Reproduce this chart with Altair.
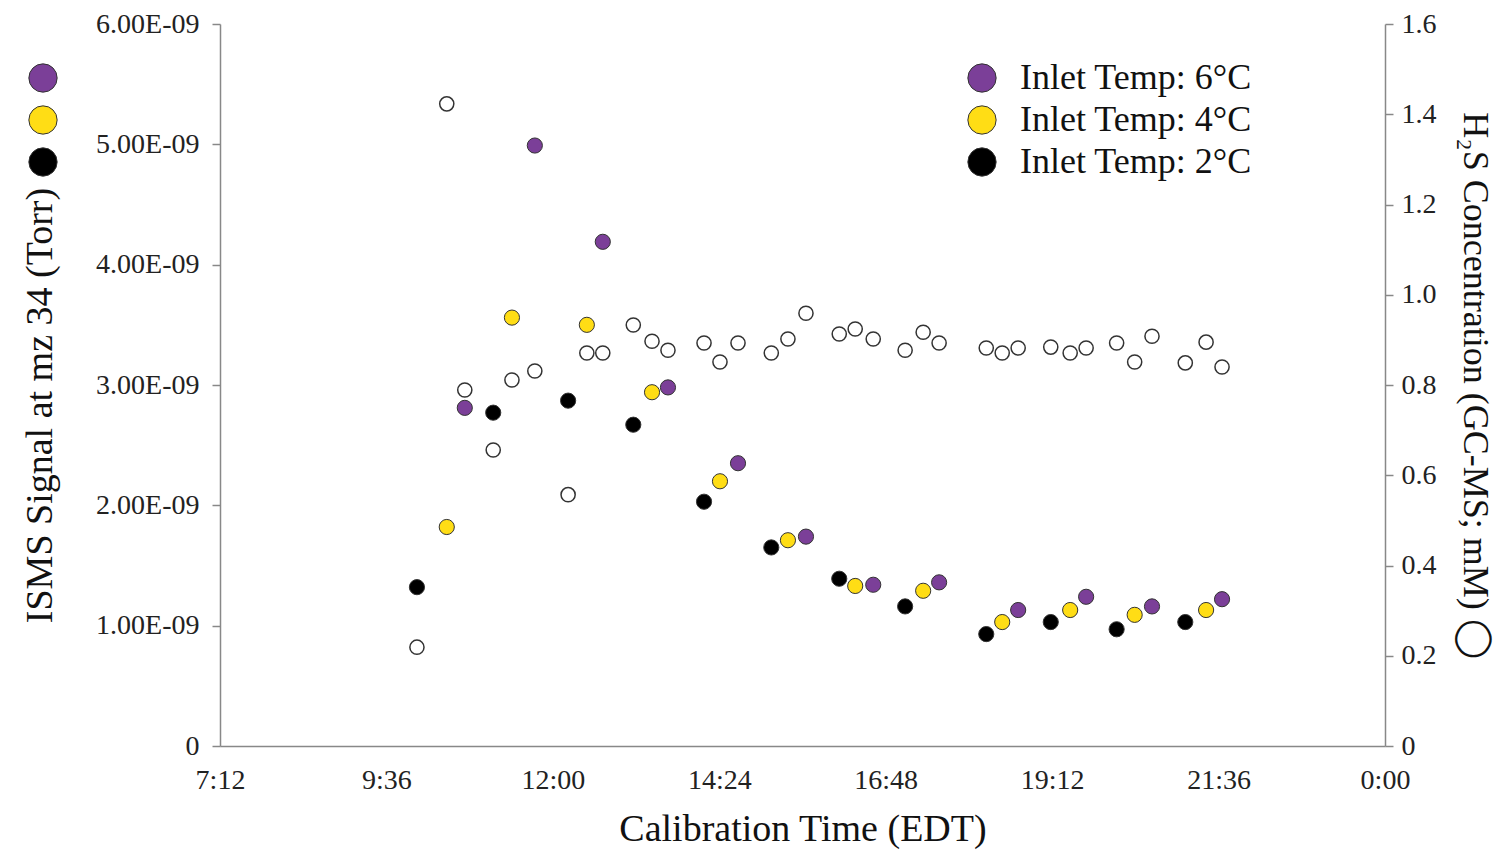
import altair as alt
import pandas as pd

FONT = "Liberation Serif"

series_names = ["Inlet Temp: 6°C", "Inlet Temp: 4°C", "Inlet Temp: 2°C"]
series_colors = ["#7B3F98", "#FFDD15", "#000000"]

# calibration times (decimal hours, EDT)
time_2c = [10.04, 11.14, 12.22, 13.16, 14.18, 15.15, 16.13, 17.08, 18.25, 19.18, 20.13, 21.12]
time_4c = [10.47, 11.41, 12.49, 13.43, 14.41, 15.39, 16.36, 17.34, 18.48, 19.46, 20.39, 21.42]
time_6c = [10.73, 11.74, 12.72, 13.66, 14.67, 15.65, 16.62, 17.57, 18.71, 19.69, 20.64, 21.65]

# ISMS signal at m/z 34 (Torr)
signal_2c = [1.32e-9, 2.77e-9, 2.87e-9, 2.67e-9, 2.03e-9, 1.65e-9, 1.39e-9, 1.16e-9, 0.93e-9, 1.03e-9, 0.97e-9, 1.03e-9]
signal_4c = [1.82e-9, 3.56e-9, 3.50e-9, 2.94e-9, 2.20e-9, 1.71e-9, 1.33e-9, 1.29e-9, 1.03e-9, 1.13e-9, 1.09e-9, 1.13e-9]
signal_6c = [2.81e-9, 4.99e-9, 4.19e-9, 2.98e-9, 2.35e-9, 1.74e-9, 1.34e-9, 1.36e-9, 1.13e-9, 1.24e-9, 1.16e-9, 1.22e-9]

# H2S concentration by GC-MS (mM)
h2s_2c = [0.219, 0.656, 0.557, 0.933, 0.893, 0.871, 0.913, 0.877, 0.882, 0.884, 0.893, 0.849]
h2s_4c = [1.423, 0.811, 0.871, 0.897, 0.851, 0.902, 0.924, 0.917, 0.871, 0.871, 0.851, 0.895]
h2s_6c = [0.789, 0.831, 0.871, 0.877, 0.893, 0.959, 0.902, 0.893, 0.882, 0.882, 0.908, 0.840]

x_ticks = [7.2, 9.6, 12.0, 14.4, 16.8, 19.2, 21.6, 24.0]
left_ticks = [0, 1e-9, 2e-9, 3e-9, 4e-9, 5e-9, 6e-9]
right_ticks = [0, 0.2, 0.4, 0.6, 0.8, 1.0, 1.2, 1.4, 1.6]

rows = []
for name, ts, sg, hs in [
    (series_names[2], time_2c, signal_2c, h2s_2c),
    (series_names[1], time_4c, signal_4c, h2s_4c),
    (series_names[0], time_6c, signal_6c, h2s_6c),
]:
    for t, s, h in zip(ts, sg, hs):
        rows.append({"series": name, "hours": t, "signal": s, "h2s": h})
df = pd.DataFrame(rows)

time_label = (
    "(floor(datum.value) % 24) + ':' + "
    "(round((datum.value - floor(datum.value)) * 60) < 10 ? '0' : '') + "
    "round((datum.value - floor(datum.value)) * 60)"
)

x_enc = alt.X(
    "hours:Q",
    scale=alt.Scale(domain=[7.2, 24], nice=False, zero=False),
    axis=alt.Axis(
        values=x_ticks, labelExpr=time_label, title="Calibration Time (EDT)",
        ticks=False, labelPadding=20, labelFlush=False,
        titleY=94, titleBaseline="alphabetic", grid=False,
    ),
)

sig_scale = alt.Scale(domain=[0, 6e-9], nice=False, zero=True)
fill_scale = alt.Scale(domain=series_names, range=series_colors)

h2s_layer = alt.Chart(df).mark_circle(
    fill="white", stroke="#333333", strokeWidth=1.5, size=200, opacity=1
).encode(
    x=x_enc,
    y=alt.Y(
        "h2s:Q",
        scale=alt.Scale(domain=[0, 1.6], nice=False),
        axis=alt.Axis(
            orient="right", values=right_ticks, labelPadding=8,
            labelExpr="datum.value == 0 ? '0' : format(datum.value, '.1f')",
            title="H₂S Concentration (GC-MS; mM) ◯",
            titleAngle=90, titleX=89, titleY=361, titleBaseline="middle",
            titleAlign="center", titleFontSize=36, grid=False,
        ),
    ),
)

sig_layer = alt.Chart(df).mark_circle(
    stroke="#333333", strokeWidth=1, size=230, opacity=1
).encode(
    x=x_enc,
    y=alt.Y(
        "signal:Q",
        scale=sig_scale,
        axis=alt.Axis(
            orient="left", values=left_ticks, labelPadding=13,
            labelExpr="datum.value == 0 ? '0' : format(datum.value * 1e9, '.2f') + 'E-09'",
            title="ISMS Signal at mz 34 (Torr)",
            titleAngle=270, titleX=-180, titleY=381, titleBaseline="middle",
            titleAlign="center", grid=False,
        ),
    ),
    fill=alt.Fill(
        "series:N", scale=fill_scale,
        legend=alt.Legend(
            title=None, orient="none", legendX=744, legendY=36,
            symbolSize=800, labelFontSize=36, rowPadding=6, labelLimit=0,
            symbolStrokeColor="#333333", symbolStrokeWidth=1,
            symbolType="circle", labelOffset=20, symbolOpacity=1,
        ),
    ),
)

legend_left = alt.Chart(df).mark_circle(size=230, opacity=0).encode(
    x=x_enc,
    y=alt.Y("signal:Q", scale=sig_scale, axis=None),
    fill=alt.Fill(
        "series:N", scale=fill_scale,
        legend=alt.Legend(
            title=None, orient="none", legendX=-195, legendY=36,
            symbolSize=800, labelFontSize=36, rowPadding=6, labelExpr="''",
            symbolStrokeColor="#333333", symbolStrokeWidth=1,
            symbolType="circle", symbolOpacity=1,
        ),
    ),
)

chart = (
    alt.layer(h2s_layer, sig_layer, legend_left)
    .resolve_scale(y="independent", fill="independent")
    .resolve_legend(fill="independent")
    .properties(
        width=1165, height=722,
        autosize=alt.AutoSizeParams(type="none"),
        padding={"left": 212, "top": 16, "right": 112, "bottom": 104},
    )
    .configure_view(stroke=None)
    .configure_axis(
        domainColor="#888888", domainWidth=1.5, tickColor="#888888", tickWidth=1.5,
        tickSize=8, labelFont=FONT, labelFontSize=28, labelColor="#222222",
        titleFont=FONT, titleFontSize=38, titleFontWeight="normal",
        titleColor="#111111",
    )
    .configure_legend(labelFont=FONT, labelColor="#111111", padding=0)
)

chart.save("out.html", embed_options={"renderer": "svg", "actions": False})
